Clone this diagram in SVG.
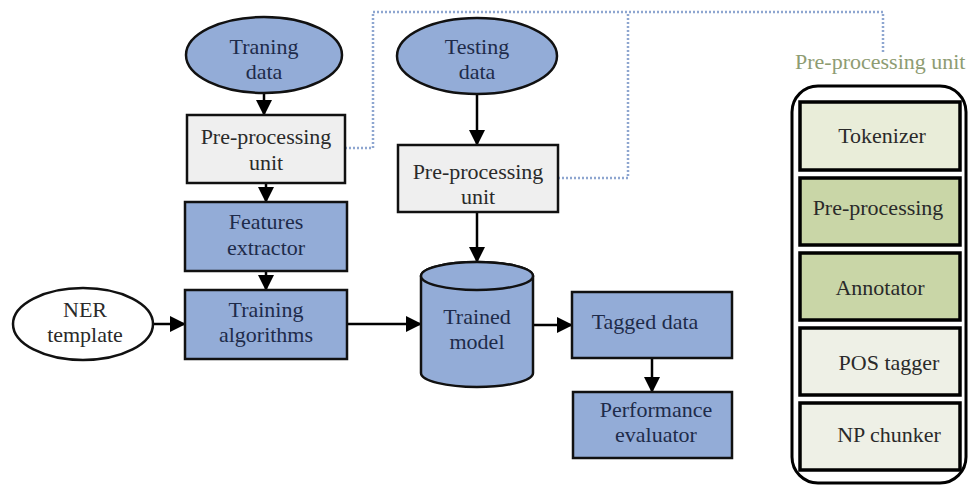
<svg xmlns="http://www.w3.org/2000/svg" width="968" height="487" viewBox="0 0 968 487">
<defs>
<marker id="arr" markerUnits="userSpaceOnUse" markerWidth="16" markerHeight="16" refX="15" refY="8" orient="auto">
<path d="M0,0 L16,8 L0,16 Z" fill="#000"/>
</marker>
<style>
text{font-family:"Liberation Serif","Times New Roman",serif;font-size:22px;text-anchor:middle}
.blue{fill:#93acd7;stroke:#111;stroke-width:2.5}
.gray{fill:#efefef;stroke:#111;stroke-width:2.5}
.white{fill:#fff;stroke:#111;stroke-width:2.5}
.tb{fill:#1e2b4a}
.tg{fill:#2a2a2a}
.inner{stroke:#000;stroke-width:3.5}
.conn{stroke:#000;stroke-width:2.5;fill:none;marker-end:url(#arr)}
.dot{stroke:#8ea6d0;stroke-width:2.5;fill:none;stroke-dasharray:2 2}
</style>
</defs>
<rect width="968" height="487" fill="#fff"/>
<g id="connectors">
<path class="conn" d="M264,93 V115"/>
<path class="conn" d="M266,183 V202"/>
<path class="conn" d="M266,271 V290"/>
<path class="conn" d="M153,324 H185"/>
<path class="conn" d="M347,324 H421"/>
<path class="conn" d="M477,95 V145"/>
<path class="conn" d="M477,212 V262"/>
<path class="conn" d="M533,325 H572"/>
<path class="conn" d="M652,358 V392"/>
<path class="dot" d="M345,148 H373 V12 H883 V52"/>
<path class="dot" d="M558,178 H628 V12"/>
</g>
<g id="training-data">
<ellipse class="blue" cx="264" cy="55" rx="78" ry="38"/>
<text class="tb" x="264" y="54">Traning</text>
<text class="tb" x="264" y="79">data</text>
</g>
<g id="preproc-left">
<rect class="gray" x="187" y="115" width="158" height="68"/>
<text class="tg" x="266" y="144">Pre-processing</text>
<text class="tg" x="266" y="170">unit</text>
</g>
<g id="features-extractor">
<rect class="blue" x="185" y="202" width="162" height="69"/>
<text class="tb" x="266" y="229">Features</text>
<text class="tb" x="266" y="255">extractor</text>
</g>
<g id="training-algorithms">
<rect class="blue" x="185" y="290" width="162" height="69"/>
<text class="tb" x="266" y="317">Training</text>
<text class="tb" x="266" y="342">algorithms</text>
</g>
<g id="ner-template">
<ellipse class="white" cx="83" cy="324" rx="70" ry="36"/>
<text class="tg" x="85" y="317">NER</text>
<text class="tg" x="85" y="342">template</text>
</g>
<g id="testing-data">
<ellipse class="blue" cx="477" cy="56" rx="80" ry="38"/>
<text class="tb" x="477" y="54">Testing</text>
<text class="tb" x="477" y="79">data</text>
</g>
<g id="preproc-right">
<rect class="gray" x="398" y="145" width="160" height="67"/>
<text class="tg" x="478" y="179">Pre-processing</text>
<text class="tg" x="478" y="204">unit</text>
</g>
<g id="trained-model">
<path class="blue" d="M421,276 V373 A56,14 0 0 0 533,373 V276 A56,14 0 0 0 421,276 Z"/>
<ellipse class="blue" cx="477" cy="276" rx="56" ry="14"/>
<text class="tb" x="477" y="324">Trained</text>
<text class="tb" x="477" y="349">model</text>
</g>
<g id="tagged-data">
<rect class="blue" x="572" y="292" width="160" height="66"/>
<text class="tb" x="645" y="329">Tagged data</text>
</g>
<g id="performance-evaluator">
<rect class="blue" x="573" y="392" width="159" height="66"/>
<text class="tb" x="656" y="417">Performance</text>
<text class="tb" x="656" y="442">evaluator</text>
</g>
<g id="preproc-unit-detail">
<text x="795" y="69" style="fill:#8e9c72;text-anchor:start">Pre-processing unit</text>
<rect x="792" y="86" width="174" height="397" rx="26" ry="26" fill="#fff" stroke="#000" stroke-width="3"/>
<g id="tokenizer">
<rect class="inner" x="800" y="102" width="160" height="68" fill="#e9edd9"/>
<text class="tg" x="882" y="143">Tokenizer</text>
</g>
<g id="pre-processing">
<rect class="inner" x="800" y="178" width="160" height="67" fill="#c9d6a7"/>
<text class="tg" x="878" y="215">Pre-processing</text>
</g>
<g id="annotator">
<rect class="inner" x="800" y="253" width="160" height="67" fill="#c9d6a7"/>
<text class="tg" x="880" y="295">Annotator</text>
</g>
<g id="pos-tagger">
<rect class="inner" x="800" y="328" width="160" height="67" fill="#eef0e6"/>
<text class="tg" x="889" y="370">POS tagger</text>
</g>
<g id="np-chunker">
<rect class="inner" x="800" y="403" width="160" height="67" fill="#eef0e6"/>
<text class="tg" x="889" y="442">NP chunker</text>
</g>
</g>
</svg>
